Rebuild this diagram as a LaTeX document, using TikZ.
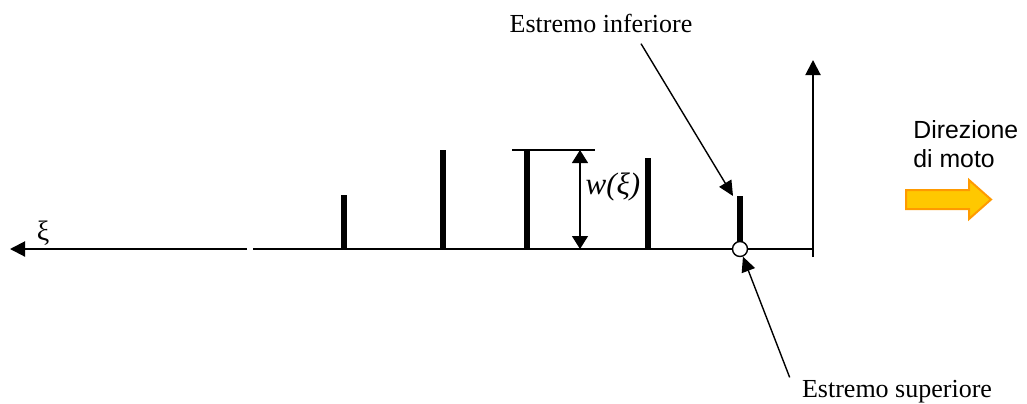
\documentclass[tikz,border=0pt]{standalone}
\usepackage{fontspec}
\setmainfont{Liberation Serif}
\newfontfamily\sansarial{Liberation Sans}
\usetikzlibrary{arrows.meta, positioning}
\definecolor{motofill}{HTML}{FFC800}
\definecolor{motodraw}{HTML}{FF9A00}

\begin{document}
\begin{tikzpicture}[
    x=0.5pt, y=-0.5pt,
    font=\fontsize{13}{15}\selectfont,
    axis/.style={line width=1pt, -{Triangle[length=7.5pt, width=7.5pt]}},
    bar/.style={line width=3pt},
    arr/.style={line width=0.7pt, -{Triangle[length=7.5pt, width=7pt]}},
    dim/.style={line width=0.6pt, {Triangle[length=6.5pt, width=8pt]}-{Triangle[length=6.5pt, width=8pt]}},
    label/.style={inner sep=0pt, anchor=base},
    motoarrow/.style={draw=motodraw, fill=motofill, line width=1pt, line join=miter},
]
\useasboundingbox (0,0) rectangle (1027,403);

% assi
\coordinate (O) at (813,249);
\coordinate (gapR) at (253,249);
\coordinate (gapL) at (247,249);
\coordinate (xiEnd) at (10,249);
\coordinate (yBot) at (813,257);
\coordinate (yEnd) at (813,60);
\draw[line width=1pt] (O) -- (gapR);
\draw[axis] (gapL) -- (xiEnd);
\draw[axis] (yBot) -- (yEnd);
\node[font=\fontsize{14}{16}\selectfont, inner sep=0pt] (xi) at (43,233) {ξ};

% aste
\foreach \x/\top [count=\i] in {344/195, 443/150, 527/150, 648/158, 740/196} {
    \coordinate (b\i) at (\x,\top);
    \draw[bar] (\x,249) -- (b\i);
}

% quota w(xi)
\coordinate (wTopL) at (512,150);
\coordinate (wTopR) at (595,150);
\coordinate (wTop) at (580,150);
\coordinate (wBot) at (580,249);
\draw[line width=0.6pt] (wTopL) -- (wTopR);
\draw[dim] (wTop) -- (wBot);
\node[font=\fontsize{15.5}{18}\selectfont\itshape, inner sep=0pt] (w) at (613,187) {w(ξ)};

% estremi
\node[circle, draw, fill=white, line width=0.7pt, minimum size=7.5pt, inner sep=0pt] (sup) at (740,249) {};
\node[label] (inf) at (601,32) {Estremo inferiore};
\node[label] (supl) at (897,397) {Estremo superiore};
\coordinate (tipinf) at (733,196);
\draw[arr] ([shift={(40,11)}]inf.south) -- (tipinf);
\draw[arr] ([shift={(-12,-2)}]supl.north west) -- (sup);

% direzione di moto
\node[font=\sansarial\fontsize{12.4}{14.5}\selectfont, align=left, anchor=north west, inner sep=0pt]
     (dir) at (913,120) {Direzione\\di moto};
\draw[motoarrow] (906,190) -- (969,190) -- (969,180) -- (991,199.5)
                 -- (969,219) -- (969,209) -- (906,209) -- cycle;

\end{tikzpicture}
\end{document}
